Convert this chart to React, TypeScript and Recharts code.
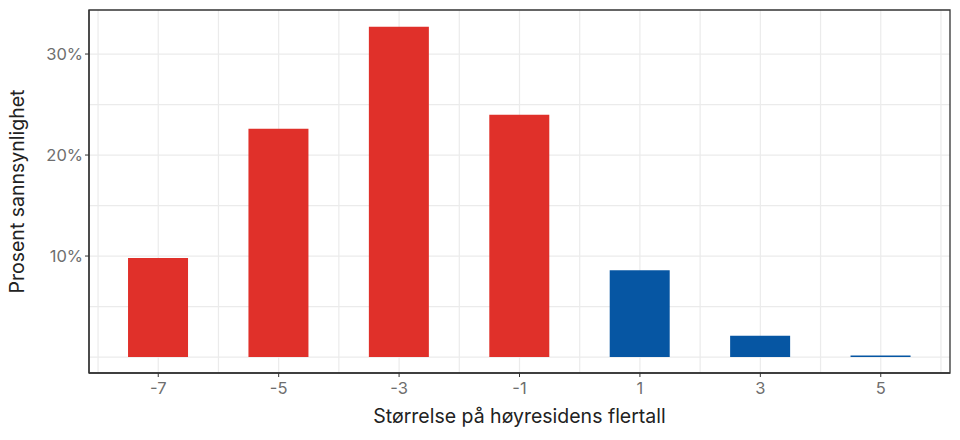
import React from "react";
import { BarChart, Bar, XAxis, YAxis, CartesianGrid, Cell, ReferenceArea, Label } from "recharts";

const categories = [-7, -5, -3, -1, 1, 3, 5];
const probabilities = [9.8, 22.6, 32.7, 24.0, 8.6, 2.1, 0.15];
const xTicks = [-7, -5, -3, -1, 1, 3, 5];
const yTicks = [10, 20, 30];
const xGrid = [-8, -7, -6, -5, -4, -3, -2, -1, 0, 1, 2, 3, 4, 5, 6];
const yGrid = [0, 5, 10, 15, 20, 25, 30];

const data = categories.map((c, i) => ({ x: c, p: probabilities[i] }));

const RED = "#E0302A";
const BLUE = "#0656A3";
const X_DOMAIN: [number, number] = [-8.15, 6.15];
const Y_DOMAIN: [number, number] = [-1.58, 34.36];
const FONT = "Inter, 'DejaVu Sans', sans-serif";

export default function App() {
  return (
    <div style={{ position: "absolute", left: 0, top: 0, background: "#fff" }}>
      <BarChart
        width={960}
        height={440}
        data={data}
        margin={{ top: 10, right: 10, left: 0, bottom: 0 }}
        style={{ fontFamily: FONT }}
      >
        <CartesianGrid
          stroke="#ebebeb"
          strokeWidth={1.2}
          horizontalValues={yGrid}
          verticalValues={xGrid}
        />
        <XAxis
          dataKey="x"
          type="number"
          domain={X_DOMAIN}
          ticks={xTicks}
          allowDataOverflow
          height={67}
          axisLine={{ stroke: "#333", strokeWidth: 1.3 }}
          tickLine={{ stroke: "#333" }}
          tickSize={4}
          tickMargin={5}
          tick={{ fill: "#6e6e6e", fontSize: 16.5, fontFamily: FONT }}
        >
          <Label
            value="Størrelse på høyresidens flertall"
            position="insideBottom"
            offset={17}
            style={{ fill: "#222", fontSize: 19.5, fontFamily: FONT }}
          />
        </XAxis>
        <YAxis
          type="number"
          domain={Y_DOMAIN}
          ticks={yTicks}
          allowDataOverflow
          width={89}
          tickFormatter={(v: number) => `${v}%`}
          axisLine={{ stroke: "#333", strokeWidth: 1.3 }}
          tickLine={{ stroke: "#333" }}
          tickSize={4}
          tick={{ fill: "#6e6e6e", fontSize: 16.5, fontFamily: FONT }}
        >
          <Label
            value="Prosent sannsynlighet"
            angle={-90}
            position="insideLeft"
            offset={17}
            style={{ textAnchor: "middle", fill: "#222", fontSize: 19.5, fontFamily: FONT }}
          />
        </YAxis>
        <ReferenceArea
          x1={X_DOMAIN[0]}
          x2={X_DOMAIN[1]}
          y1={Y_DOMAIN[0]}
          y2={Y_DOMAIN[1]}
          fill="none"
          stroke="#333"
          strokeWidth={1.3}
          ifOverflow="visible"
        />
        <Bar dataKey="p" barSize={60} isAnimationActive={false}>
          {data.map((d) => (
            <Cell key={d.x} fill={d.x < 0 ? RED : BLUE} />
          ))}
        </Bar>
      </BarChart>
    </div>
  );
}
